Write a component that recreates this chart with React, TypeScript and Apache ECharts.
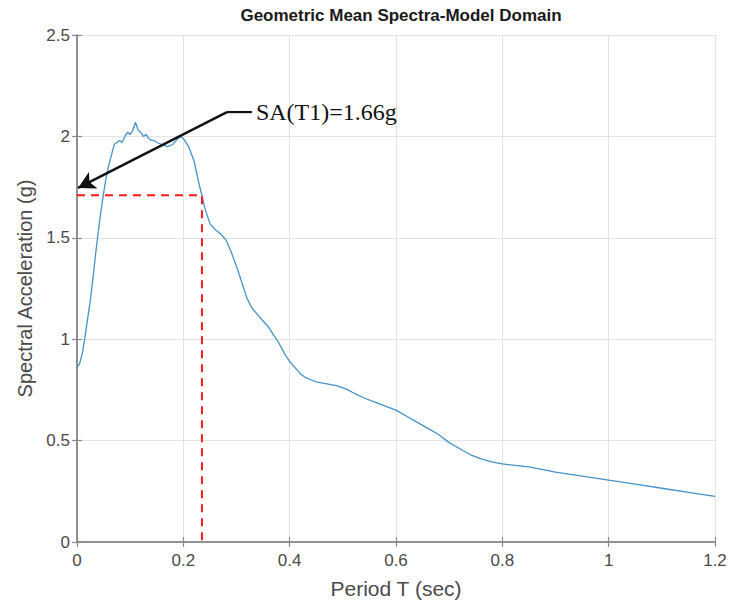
import React, { useEffect, useRef } from "react";
import * as echarts from "echarts";

const periods = [
  0.0, 0.005, 0.01, 0.015, 0.02, 0.025, 0.03, 0.035, 0.04, 0.045, 0.05, 0.055, 0.06, 0.065, 0.07,
  0.075, 0.08, 0.085, 0.09, 0.095, 0.1, 0.105, 0.11, 0.115, 0.12, 0.125, 0.13, 0.135, 0.14, 0.145,
  0.15, 0.16, 0.17, 0.18, 0.19, 0.195, 0.2, 0.21, 0.22, 0.225, 0.23, 0.235, 0.24, 0.25, 0.26, 0.27,
  0.28, 0.29, 0.3, 0.31, 0.32, 0.33, 0.34, 0.35, 0.36, 0.37, 0.38, 0.39, 0.4, 0.41, 0.42, 0.43,
  0.44, 0.45, 0.46, 0.47, 0.48, 0.49, 0.5, 0.51, 0.52, 0.54, 0.56, 0.58, 0.6, 0.62, 0.64, 0.66,
  0.68, 0.7, 0.72, 0.74, 0.76, 0.78, 0.8, 0.85, 0.9, 0.95, 1.0, 1.05, 1.1, 1.15, 1.2,
];
const spectralAcc = [
  0.86, 0.88, 0.93, 1.01, 1.1, 1.19, 1.3, 1.42, 1.53, 1.63, 1.72, 1.8, 1.86, 1.91, 1.96,
  1.97, 1.98, 1.97, 2.0, 2.02, 2.01, 2.03, 2.07, 2.03, 2.02, 2.0, 2.01, 1.99, 1.98, 1.98,
  1.97, 1.96, 1.95, 1.96, 1.99, 2.0, 1.99, 1.95, 1.88, 1.82, 1.76, 1.71, 1.65, 1.57, 1.54, 1.52,
  1.49, 1.43, 1.36, 1.28, 1.2, 1.15, 1.12, 1.09, 1.06, 1.02, 0.98, 0.93, 0.89, 0.86, 0.83, 0.81,
  0.8, 0.79, 0.785, 0.78, 0.775, 0.77, 0.76, 0.75, 0.735, 0.71, 0.69, 0.67, 0.65, 0.62, 0.59, 0.56,
  0.53, 0.49, 0.46, 0.43, 0.41, 0.395, 0.385, 0.37, 0.345, 0.325, 0.305, 0.285, 0.265, 0.245, 0.225,
];

const t1 = 0.235;
const saT1Drawn = 1.71;
const annotationText = "SA(T1)=1.66g";
// annotation leader: text anchor, elbow, arrow tip (data coordinates)
const leaderStart = [0.329, 2.12];
const leaderElbow = [0.282, 2.12];
const arrowTip = [0.002, 1.746];

const xTicks = { min: 0, max: 1.2, interval: 0.2 };
const yTicks = { min: 0, max: 2.5, interval: 0.5 };

export default function App() {
  const ref = useRef<HTMLDivElement>(null);
  useEffect(() => {
    if (!ref.current) return;
    const chart = echarts.init(ref.current, undefined, { renderer: "svg" });
    const axisLine = { show: true, lineStyle: { color: "#8c8c8c", width: 1.6 } };
    const tickStyle = { show: true, inside: true, length: 5, lineStyle: { color: "#8c8c8c", width: 1.2 } };
    const font = "Liberation Sans, Arial, sans-serif";
    const labelStyle = { color: "#4a4a4a", fontSize: 17, fontFamily: font };
    chart.setOption({
      animation: false,
      backgroundColor: "#ffffff",
      title: {
        text: "Geometric Mean Spectra-Model Domain",
        left: 396,
        textAlign: "center",
        top: 2,
        textStyle: { fontSize: 17, fontWeight: "bold", color: "#1a1a1a", fontFamily: font },
      },
      grid: { left: 77, right: 17, top: 35, bottom: 62 },
      xAxis: [
        {
          type: "value",
          ...xTicks,
          name: "Period T (sec)",
          nameLocation: "middle",
          nameGap: 36,
          nameTextStyle: { ...labelStyle, fontSize: 21 },
          axisLine,
          axisTick: tickStyle,
          axisLabel: { ...labelStyle, margin: 10 },
          splitLine: { show: true, lineStyle: { color: "#e3e3e3", width: 1 } },
        },
        {
          type: "value",
          ...xTicks,
          position: "top",
          axisLine,
          axisTick: tickStyle,
          axisLabel: { show: false },
          splitLine: { show: false },
        },
      ],
      yAxis: [
        {
          type: "value",
          ...yTicks,
          name: "Spectral Acceleration (g)",
          nameLocation: "middle",
          nameGap: 41,
          nameTextStyle: { ...labelStyle, fontSize: 20 },
          axisLine,
          axisTick: tickStyle,
          axisLabel: { ...labelStyle, margin: 7 },
          splitLine: { show: true, lineStyle: { color: "#e3e3e3", width: 1 } },
        },
        {
          type: "value",
          ...yTicks,
          position: "right",
          axisLine,
          axisTick: tickStyle,
          axisLabel: { show: false },
          splitLine: { show: false },
        },
      ],
      series: [
        {
          type: "line",
          data: periods.map((p, i) => [p, spectralAcc[i]]),
          showSymbol: false,
          smooth: false,
          lineStyle: { color: "#4592c8", width: 1.3 },
          z: 3,
        },
        {
          type: "line",
          data: [
            [0, saT1Drawn],
            [t1, saT1Drawn],
            [t1, 0],
          ],
          showSymbol: false,
          lineStyle: { color: "#ff1a1a", width: 2, type: [8, 6] },
          z: 4,
        },
        {
          type: "line",
          data: [leaderStart, leaderElbow],
          showSymbol: false,
          lineStyle: { color: "#111111", width: 2.2 },
          z: 5,
          markLine: {
            silent: true,
            symbol: ["none", "arrow"],
            symbolSize: [14, 17],
            lineStyle: { color: "#111111", width: 2.4, type: "solid" },
            label: { show: false },
            data: [[{ coord: leaderElbow }, { coord: arrowTip }]],
          },
          markPoint: {
            silent: true,
            symbol: "circle",
            symbolSize: 0,
            data: [{ coord: leaderStart, value: annotationText }],
            label: {
              show: true,
              position: "right",
              distance: 4,
              formatter: annotationText,
              color: "#111111",
              fontSize: 24,
              fontFamily: "Liberation Serif, Times New Roman, serif",
            },
          },
        },
      ],
    });
    return () => chart.dispose();
  }, []);
  return <div ref={ref} style={{ position: "fixed", left: 0, top: 0, width: 732, height: 604 }} />;
}
